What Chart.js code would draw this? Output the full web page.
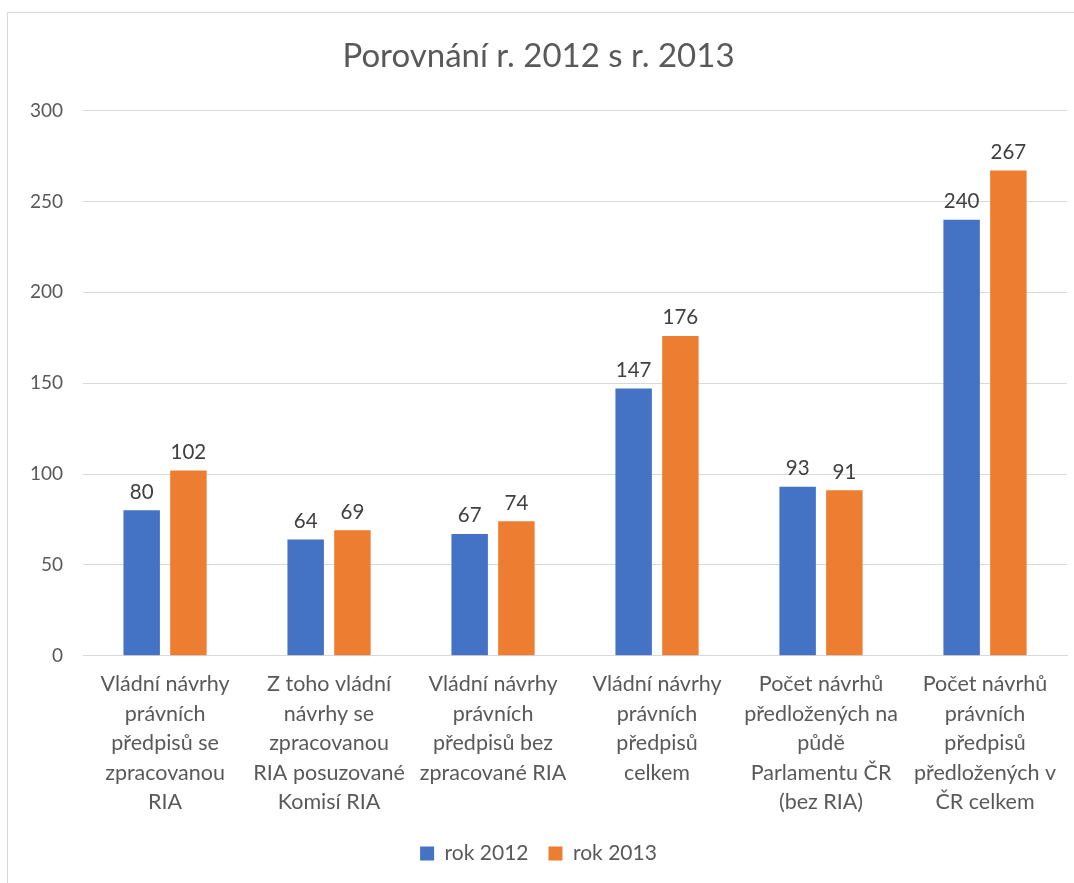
<!DOCTYPE html>
<html>
<head>
<meta charset="utf-8">
<script src="https://cdn.jsdelivr.net/npm/chart.js@4.4.0/dist/chart.umd.min.js"></script>
<style>
html,body{margin:0;padding:0;background:#fff;}
#wrap{position:absolute;left:7px;top:12px;width:1080px;height:880px;border:1px solid #d9d9d9;box-sizing:border-box;background:#fff;}
</style>
</head>
<body>
<div id="wrap"><canvas id="c"></canvas></div>
<script>
const categories = [
  ["Vládní návrhy","právních","předpisů se","zpracovanou","RIA"],
  ["Z toho vládní","návrhy se","zpracovanou","RIA posuzované","Komisí RIA"],
  ["Vládní návrhy","právních","předpisů bez","zpracované RIA"],
  ["Vládní návrhy","právních","předpisů","celkem"],
  ["Počet návrhů","předložených na","půdě","Parlamentu ČR","(bez RIA)"],
  ["Počet návrhů","právních","předpisů","předložených v","ČR celkem"]
];
const rok2012 = [80, 64, 67, 147, 93, 240];
const rok2013 = [102, 69, 74, 176, 91, 267];
const yTicks = [0, 50, 100, 150, 200, 250, 300];
const FONT = "Lato, 'Open Sans', sans-serif";

const dataLabels = {
  id: 'dataLabels',
  afterDatasetsDraw(chart) {
    const ctx = chart.ctx;
    ctx.save();
    ctx.font = "20.5px " + FONT;
    ctx.fillStyle = '#404040';
    ctx.textAlign = 'center';
    ctx.textBaseline = 'bottom';
    chart.data.datasets.forEach((ds, i) => {
      chart.getDatasetMeta(i).data.forEach((bar, j) => {
        ctx.fillText(String(ds.data[j]), bar.x, bar.y - 8);
      });
    });
    ctx.restore();
  }
};

new Chart(document.getElementById('c'), {
  type: 'bar',
  data: {
    labels: categories,
    datasets: [
      {label: 'rok 2012', data: rok2012, backgroundColor: '#4472C4', barPercentage: 0.78, categoryPercentage: 0.57},
      {label: 'rok 2013', data: rok2013, backgroundColor: '#ED7D31', barPercentage: 0.78, categoryPercentage: 0.57}
    ]
  },
  options: {
    responsive: true,
    maintainAspectRatio: false,
    animation: false,
    layout: {padding: {left: 2, right: 19, top: 10, bottom: 17}},
    plugins: {
      title: {display: true, text: 'Porovnání r. 2012 s r. 2013', color: '#595959',
        font: {family: FONT, size: 33, weight: 'normal'}, padding: {top: 14, bottom: 34}},
      legend: {position: 'bottom', labels: {color: '#595959', font: {family: FONT, size: 21},
        boxWidth: 14, boxHeight: 14, padding: 20}},
      tooltip: {enabled: false}
    },
    scales: {
      x: {
        grid: {display: false},
        border: {display: true, color: '#d9d9d9'},
        ticks: {color: '#595959', font: {family: FONT, size: 21.5, lineHeight: 1.37}, maxRotation: 0, autoSkip: false, padding: 6}
      },
      y: {
        min: 0, max: 300,
        afterBuildTicks(axis) { axis.ticks = yTicks.map(v => ({value: v})); },
        grid: {color: '#d9d9d9', drawTicks: false},
        border: {display: false},
        ticks: {color: '#595959', font: {family: FONT, size: 19}, padding: 20}
      }
    }
  },
  plugins: [dataLabels]
});
</script>
</body>
</html>
